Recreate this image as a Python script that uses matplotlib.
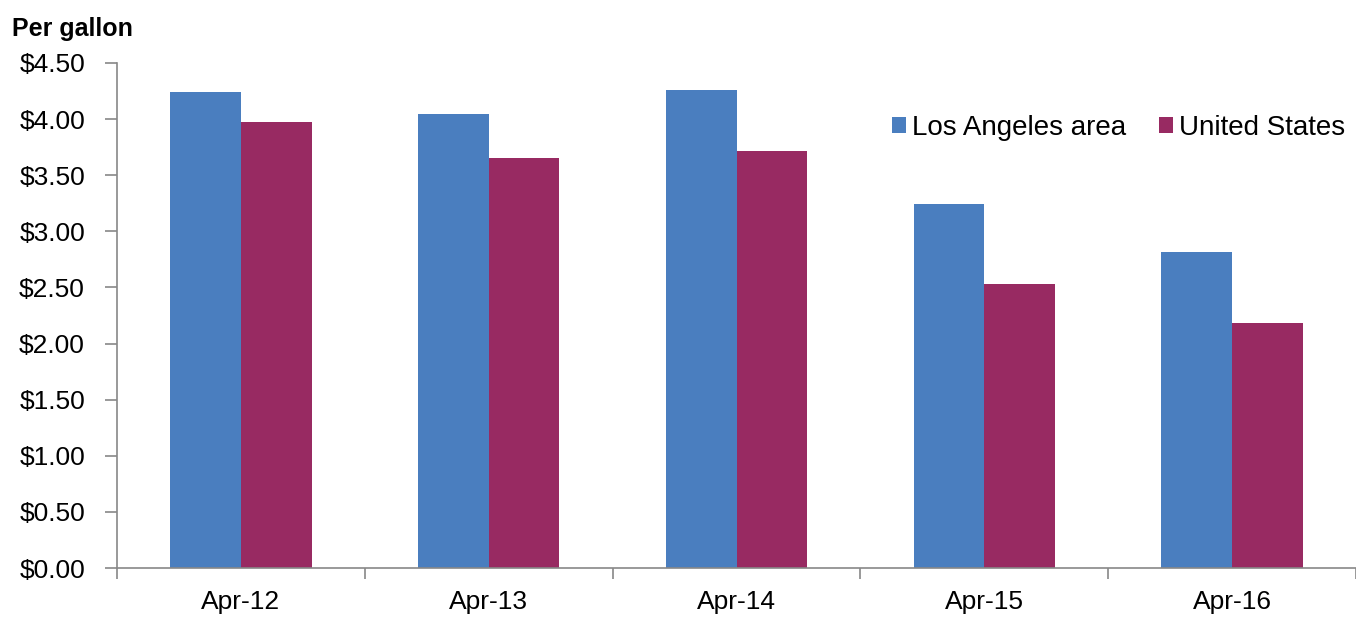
import matplotlib
matplotlib.use("Agg")
import matplotlib.pyplot as plt
import numpy as np

categories = ["Apr-12", "Apr-13", "Apr-14", "Apr-15", "Apr-16"]
la_prices = [4.24, 4.05, 4.26, 3.24, 2.82]
us_prices = [3.97, 3.65, 3.72, 2.53, 2.18]
series_names = ["Los Angeles area", "United States"]
yticks = [0, 0.5, 1, 1.5, 2, 2.5, 3, 3.5, 4, 4.5]

plt.rcParams['font.family'] = ['Liberation Sans', 'DejaVu Sans']

fig = plt.figure(figsize=(13.56, 6.18), dpi=100)
ax = fig.add_axes([117/1356, 1 - 568/618, 1 - 117/1356, (568 - 63)/618])

x = np.arange(len(categories))
w = 0.285
ax.bar(x - w/2, la_prices, w, color="#4A7EBF", label=series_names[0])
ax.bar(x + w/2, us_prices, w, color="#982A62", label=series_names[1])

ax.set_xlim(-0.5, len(categories) - 0.5)
ax.set_ylim(0, 4.5)
ax.set_yticks(yticks)
ax.set_yticklabels([f"${v:.2f}" for v in yticks], fontsize=19)
ax.set_xticks(x)
ax.set_xticklabels(categories, fontsize=19)
ax.set_xticks(np.arange(-0.5, len(categories)), minor=True)
ax.tick_params(axis='x', which='major', length=0, pad=16)
ax.tick_params(axis='x', which='minor', length=8, color="#888888", width=1.2)
ax.tick_params(axis='y', length=9, color="#888888", width=1.2, pad=14)

for s in ["top", "right"]:
    ax.spines[s].set_visible(False)
for s in ["left", "bottom"]:
    ax.spines[s].set_color("#888888")
    ax.spines[s].set_linewidth(1.2)

fig.text(12/1356, 1 - 29/618, "Per gallon", fontsize=18, fontweight="bold", va="center", ha="left")

ax.legend(loc="upper right", bbox_to_anchor=(1.0, 0.92), ncol=2, frameon=False,
          fontsize=20, handlelength=0.5, handleheight=0.5, handletextpad=0.2,
          columnspacing=1.2, borderaxespad=0)

fig.savefig("out.png", dpi=100)
